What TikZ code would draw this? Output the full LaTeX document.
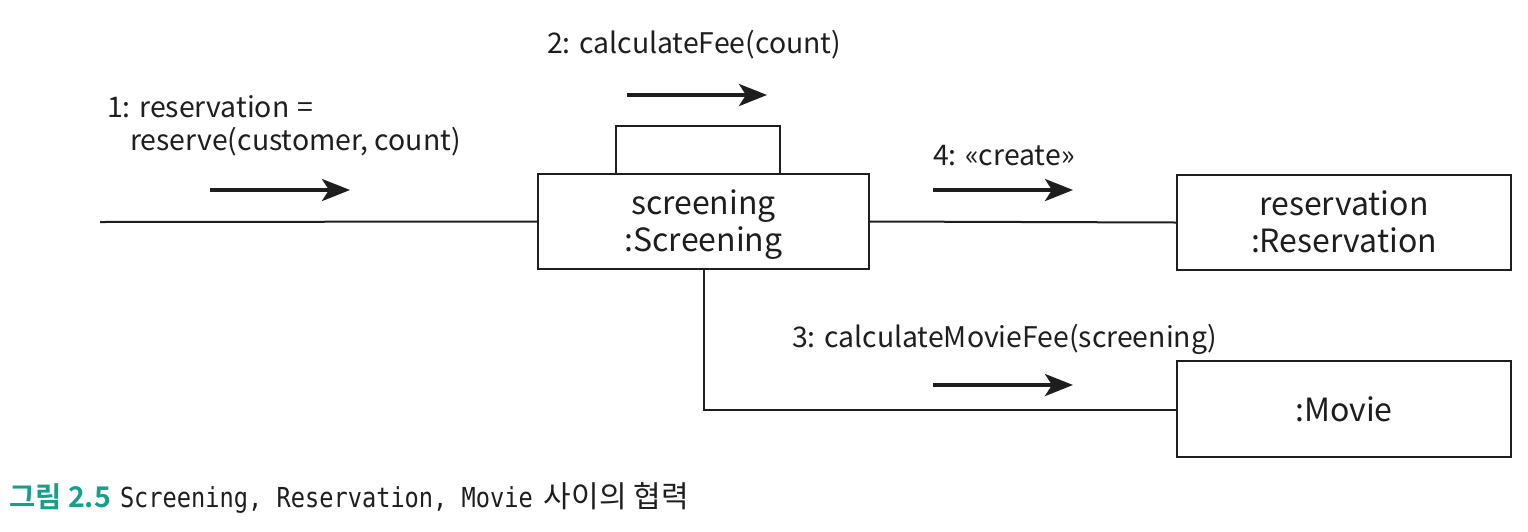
\documentclass[tikz,border=0pt]{standalone}
\usepackage{fontspec}
\setmainfont{Noto Sans CJK KR}
\newfontfamily\capmono[FakeStretch=0.86]{DejaVu Sans Mono}
\newfontfamily\capko{Noto Sans CJK KR}
\newfontfamily\capbold{Noto Sans CJK KR Bold}
\usetikzlibrary{arrows.meta,calc}
\definecolor{capteal}{RGB}{22,160,140}
\definecolor{inkc}{RGB}{30,30,30}
\newcommand{\twolines}[2]{\raisebox{-4pt}[\height][\depth]{\begin{tabular}{@{}c@{}}#1\\#2\end{tabular}}}
\tikzset{
  objbox/.style={draw=inkc, line width=2pt, fill=white, align=center, inner sep=0pt,
    font=\fontsize{32}{37}\selectfont, text=inkc},
  link/.style={draw=inkc, line width=2pt},
  msgarrow/.style={draw=inkc, line width=4pt, -{Stealth[length=28pt,width=22pt,inset=7pt]}},
  msglabel/.style={anchor=base west, inner sep=0pt, text=inkc, font=\fontsize{28.4}{33}\selectfont},
}
\begin{document}
\begin{tikzpicture}[x=1pt,y=-1pt]
\useasboundingbox (0,0) rectangle (1528,531);
% objects
\node[objbox, minimum width=331pt, minimum height=95pt] (scr) at (703.5,221.5) {\twolines{screening}{:Screening}};
\node[objbox, minimum width=334pt, minimum height=95pt] (res) at (1344,222.5) {\twolines{reservation}{:Reservation}};
\node[objbox, minimum width=334pt, minimum height=96pt] (mov) at (1344,409) {:Movie};
% links
\coordinate (ext) at (100,222);
\draw[link] (ext) -- (scr.west);
\draw[link] (scr.east) -- (res.west);
\draw[link] (scr.south) |- ($(mov.west)+(0,1)$);
\coordinate (loopL) at ($(scr.north west)+(79,0)$);
\coordinate (loopR) at ($(scr.north west)+(243,0)$);
\draw[link] (loopL) -- ++(0,-47) -| (loopR);
% message arrows
\coordinate (a1s) at (210,190); \coordinate (a1e) at (350,190);
\coordinate (a2s) at (627,95);  \coordinate (a2e) at (767,95);
\coordinate (a4s) at (933,190); \coordinate (a4e) at (1073,190);
\coordinate (a3s) at (933,385); \coordinate (a3e) at (1073,385);
\draw[msgarrow] (a1s) -- (a1e);
\draw[msgarrow] (a2s) -- (a2e);
\draw[msgarrow] (a4s) -- (a4e);
\draw[msgarrow] (a3s) -- (a3e);
% message labels
\node[msglabel] (l1a) at (107,117) {1: reservation\hspace{0.3em}=};
\node[msglabel] (l1b) at (130,150) {reserve(customer, count)};
\node[msglabel] (l2) at (547,53) {2: calculateFee(count)};
\node[msglabel] (l4) at (933,165) {4: «create»};
\node[msglabel] (l3) at (792,347) {3: calculateMovieFee(screening)};
% caption
\node[anchor=base west, inner sep=0pt] (cap) at (9,507)
  {{\capbold\fontsize{28.5}{30}\selectfont\color{capteal}그림 2.5}\hspace{9pt}{\capmono\fontsize{27.5}{30}\selectfont\color{inkc}Screening, Reservation, Movie}\hspace{11pt}{\capko\fontsize{30}{30}\selectfont\color{inkc}사이의 협력}};
\end{tikzpicture}
\end{document}
